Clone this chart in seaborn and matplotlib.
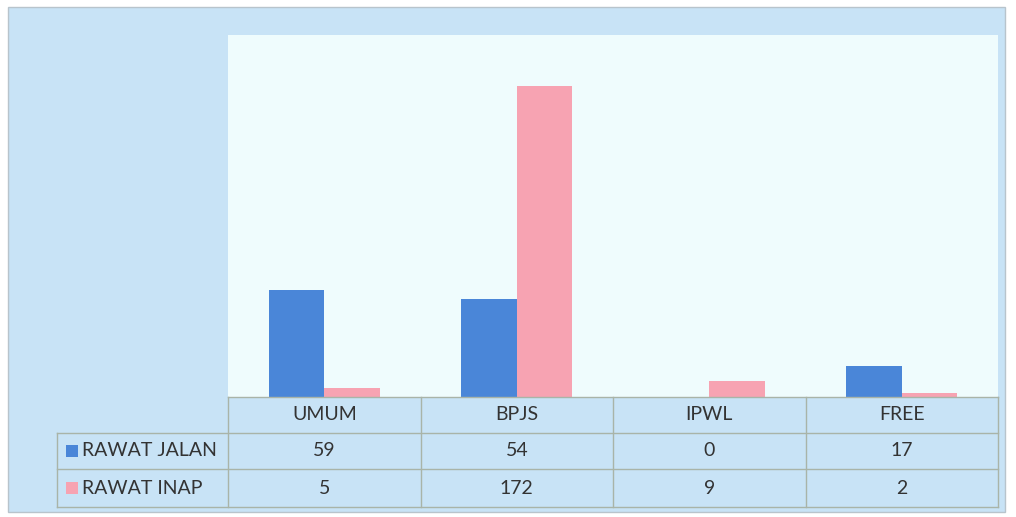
import matplotlib
matplotlib.use("Agg")
import matplotlib.pyplot as plt
import seaborn as sns
import pandas as pd
from matplotlib.patches import Rectangle

categories = ["UMUM", "BPJS", "IPWL", "FREE"]
series_names = ["RAWAT JALAN", "RAWAT INAP"]
rawat_jalan = [59, 54, 0, 17]
rawat_inap = [5, 172, 9, 2]
colors = ["#4a86d8", "#f7a3b2"]

df = pd.DataFrame({
    "kategori": categories * 2,
    "seri": [series_names[0]] * 4 + [series_names[1]] * 4,
    "nilai": rawat_jalan + rawat_inap,
})

W, H = 1016, 517
fig = plt.figure(figsize=(W / 100, H / 100), dpi=100)
fig.patch.set_facecolor("white")
font = ["Lato", "DejaVu Sans"]

def fx(px):
    return px / W

def fy(py):
    return 1 - py / H

# outer panel
fig.patches.append(Rectangle((fx(8), fy(512)), fx(997), 505 / H, transform=fig.transFigure,
                             facecolor="#c8e3f6", edgecolor="#b8c4cc", lw=1, zorder=-10))

# plot area
x0, x1 = 228, 998
ytop, ybot = 35, 397
ax = fig.add_axes([fx(x0), fy(ybot), fx(x1 - x0), (ybot - ytop) / H])
ax.set_facecolor("#effcfd")
sns.barplot(data=df, x="kategori", y="nilai", hue="seri", palette=colors,
            width=0.575, saturation=1, ax=ax, legend=False)
for p in ax.patches:
    p.set_edgecolor("none")
ax.set_ylim(0, 200)
ax.set_xlim(-0.5, 3.5)
ax.set_xlabel("")
ax.set_ylabel("")
ax.set_xticks([])
ax.set_yticks([])
for s in ax.spines.values():
    s.set_visible(False)

# data table
tax = fig.add_axes([0, 0, 1, 1])
tax.set_xlim(0, W)
tax.set_ylim(H, 0)
tax.axis("off")
tax.patch.set_alpha(0)
line_c = "#a9b4a8"
col_edges = [x0 + i * (x1 - x0) / 4 for i in range(5)]
row_edges = [397, 433, 469, 507]
left = 57
for xe in col_edges:
    tax.plot([xe, xe], [row_edges[0], row_edges[-1]], color=line_c, lw=1)
tax.plot([left, left], [row_edges[1], row_edges[-1]], color=line_c, lw=1)
tax.plot([x0, x1], [row_edges[0], row_edges[0]], color=line_c, lw=1)
for ye in row_edges[1:]:
    tax.plot([left, x1], [ye, ye], color=line_c, lw=1)

fs = 14
tc = "#333333"
for i, c in enumerate(categories):
    cx = (col_edges[i] + col_edges[i + 1]) / 2
    tax.text(cx, (row_edges[0] + row_edges[1]) / 2, c, ha="center", va="center",
             fontsize=fs, family=font, color=tc)
    tax.text(cx, (row_edges[1] + row_edges[2]) / 2, str(rawat_jalan[i]), ha="center",
             va="center", fontsize=fs, family=font, color=tc)
    tax.text(cx, (row_edges[2] + row_edges[3]) / 2, str(rawat_inap[i]), ha="center",
             va="center", fontsize=fs, family=font, color=tc)
for r, (name, col) in enumerate(zip(series_names, colors)):
    yc = (row_edges[r + 1] + row_edges[r + 2]) / 2
    tax.add_patch(Rectangle((66, yc - 6), 12, 12, facecolor=col, edgecolor="none"))
    tax.text(82, yc, name, ha="left", va="center", fontsize=fs, family=font, color=tc)

fig.savefig("out.png", dpi=100)
